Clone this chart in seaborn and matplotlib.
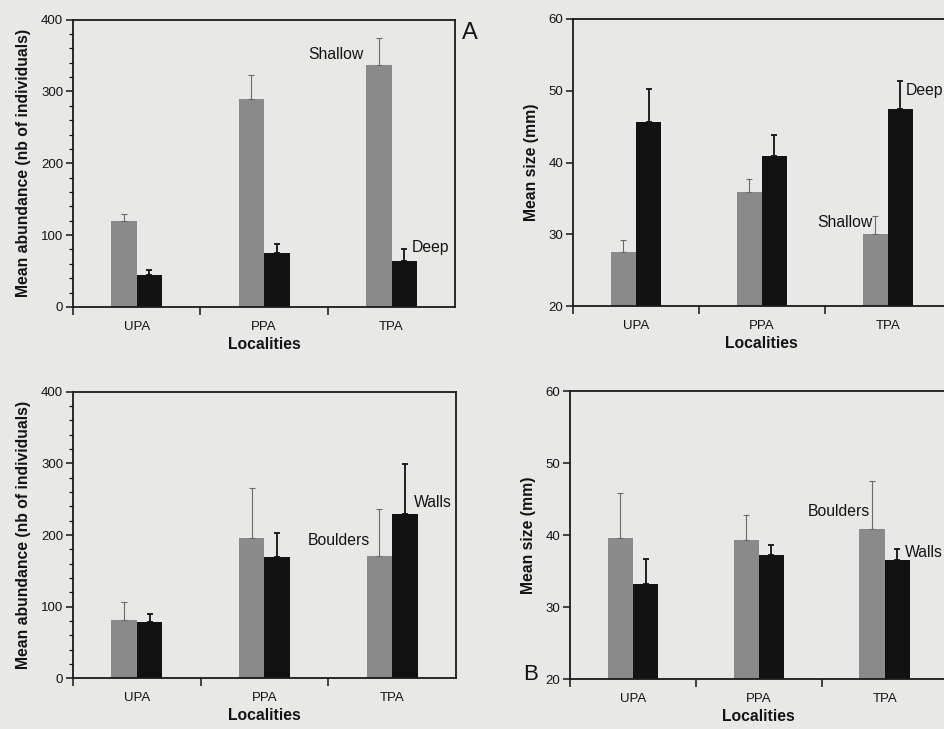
import numpy as np
import pandas as pd
import seaborn as sns
import matplotlib.pyplot as plt
from matplotlib.ticker import MultipleLocator

localities = ["UPA", "PPA", "TPA"]

# top row: depth (Shallow / Deep)
abund_shallow = [120, 290, 337]
abund_shallow_err = [9, 33, 37]
abund_deep = [44, 75, 64]
abund_deep_err = [7, 12, 16]

size_shallow = [27.6, 35.9, 30.0]
size_shallow_err = [1.6, 1.8, 2.6]
size_deep = [45.6, 40.9, 47.4]
size_deep_err = [4.6, 2.9, 4.0]

# bottom row: habitat (Boulders / Walls)
abund_boulders = [81, 196, 171]
abund_boulders_err = [26, 70, 66]
abund_walls = [78, 170, 229]
abund_walls_err = [12, 33, 70]

size_boulders = [39.6, 39.3, 40.9]
size_boulders_err = [6.3, 3.5, 6.7]
size_walls = [33.3, 37.3, 36.6]
size_walls_err = [3.4, 1.4, 1.5]

BG = "#e8e8e6"
GRAY = "#8a8a8a"
BLACK = "#121212"
INK = "#141414"

sns.set_style("ticks")
plt.rcParams["font.family"] = ["Liberation Sans", "DejaVu Sans"]
plt.rcParams["axes.linewidth"] = 1.3
plt.rcParams["axes.edgecolor"] = "#1a1a1a"
plt.rcParams["xtick.color"] = INK
plt.rcParams["ytick.color"] = INK
plt.rcParams["axes.labelcolor"] = INK


def panel(ax, vals1, errs1, vals2, errs2, names, ylim, ystep, ylabel, minor=None):
    df = pd.DataFrame({
        "loc": localities * 2,
        "grp": [names[0]] * 3 + [names[1]] * 3,
        "val": list(vals1) + list(vals2),
        "err": list(errs1) + list(errs2),
    })
    sns.barplot(data=df, x="loc", y="val", hue="grp", order=localities,
                hue_order=names, palette=[GRAY, BLACK], width=0.4,
                errorbar=None, legend=False, ax=ax, saturation=1,
                linewidth=0)
    # bars sorted by x position -> pair with data rows
    bars = sorted(ax.patches, key=lambda p: p.get_x())
    rows = []
    for i in range(3):
        rows.append((vals1[i], errs1[i], "#6a6a6a", 0.8))
        rows.append((vals2[i], errs2[i], BLACK, 1.3))
    for b, (v, e, ec, lw) in zip(bars, rows):
        cx = b.get_x() + b.get_width() / 2
        ax.errorbar(cx, v, yerr=[[0], [e]], fmt="none", ecolor=ec,
                    elinewidth=lw, capsize=2.5, capthick=lw, zorder=1)
    ax.set_xlim(-0.5, 2.5)
    ax.set_ylim(*ylim)
    ax.yaxis.set_major_locator(MultipleLocator(ystep))
    if minor:
        ax.yaxis.set_minor_locator(MultipleLocator(minor))
        ax.tick_params(axis="y", which="minor", length=3, width=0.9)
    ax.tick_params(axis="y", which="major", length=5, width=1.1,
                   labelsize=9.5, pad=2)
    ax.set_xticks([0, 1, 2], localities)
    ax.set_xticks([-0.5, 0.5, 1.5], minor=True)
    ax.tick_params(axis="x", which="major", length=0, labelsize=9.5, pad=10)
    ax.tick_params(axis="x", which="minor", length=6, width=1.1)
    ax.set_xlabel("Localities", fontsize=11.3, fontweight="bold", labelpad=3)
    ax.set_ylabel(ylabel, fontsize=11.3, fontweight="bold", labelpad=7)
    ax.set_facecolor(BG)
    for s in ax.spines.values():
        s.set_visible(True)


fig = plt.figure(figsize=(9.44, 7.29), dpi=100, facecolor=BG)
axA = fig.add_axes([0.0773, 0.579, 0.405, 0.394])
axB = fig.add_axes([0.607, 0.580, 0.400, 0.394])
axC = fig.add_axes([0.0773, 0.0695, 0.4057, 0.393])
axD = fig.add_axes([0.6038, 0.068, 0.400, 0.395])

panel(axA, abund_shallow, abund_shallow_err, abund_deep, abund_deep_err,
      ["Shallow", "Deep"], (0, 400), 100, "Mean abundance (nb of individuals)", minor=20)
panel(axB, size_shallow, size_shallow_err, size_deep, size_deep_err,
      ["Shallow", "Deep"], (20, 60), 10, "Mean size (mm)")
panel(axC, abund_boulders, abund_boulders_err, abund_walls, abund_walls_err,
      ["Boulders", "Walls"], (0, 400), 100, "Mean abundance (nb of individuals)", minor=20)
panel(axD, size_boulders, size_boulders_err, size_walls, size_walls_err,
      ["Boulders", "Walls"], (20, 60), 10, "Mean size (mm)")

lab = dict(fontsize=11.3, va="center", ha="left", color=INK)
axA.text(1.35, 352, "Shallow", **lab)
axA.text(2.16, 83, "Deep", **lab)
axB.text(1.44, 31.6, "Shallow", **lab)
axB.text(2.14, 50.0, "Deep", **lab)
axC.text(1.34, 192, "Boulders", **lab)
axC.text(2.17, 246, "Walls", **lab)
axD.text(1.39, 43.3, "Boulders", **lab)
axD.text(2.16, 37.7, "Walls", **lab)

fig.text(462 / 944, 1 - 33 / 729, "A", fontsize=17, va="center", ha="left", color=INK)
fig.text(523 / 944, 1 - 675 / 729, "B", fontsize=16, va="center", ha="left", color=INK)

fig.savefig("out.png", dpi=100, facecolor=BG)
